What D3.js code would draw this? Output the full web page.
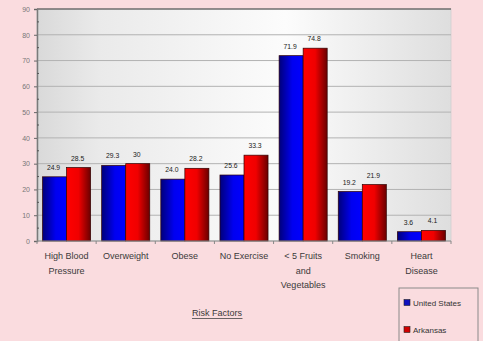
<!DOCTYPE html>
<html>
<head>
<meta charset="utf-8">
<script src="https://cdn.jsdelivr.net/npm/d3@7"></script>
<style>
  body { margin: 0; background: #fadcdf; }
  svg { display: block; font-family: "Liberation Sans", Arial, sans-serif; }
</style>
</head>
<body>
<script>
// data
const categories = [
    ['High Blood', 'Pressure'],
    ['Overweight'],
    ['Obese'],
    ['No Exercise'],
    ['< 5 Fruits', 'and', 'Vegetables'],
    ['Smoking'],
    ['Heart', 'Disease']
]
const seriesNames = ['United States', 'Arkansas']
const usValues = [24.9, 29.3, 24.0, 25.6, 71.9, 19.2, 3.6]
const arValues = [28.5, 30, 28.2, 33.3, 74.8, 21.9, 4.1]
const usLabels = ['24.9', '29.3', '24.0', '25.6', '71.9', '19.2', '3.6']
const arLabels = ['28.5', '30', '28.2', '33.3', '74.8', '21.9', '4.1']
const yTicks = [0, 10, 20, 30, 40, 50, 60, 70, 80, 90]
const axisTitle = 'Risk Factors'

window.onload = function(){
    chart.draw()
}

class chart {

    static width = 483
    static height = 341
    static plot = {left: 37, right: 451, top: 9, bottom: 241}

    static draw(){
        const svg = d3.select('body').append('svg')
            .attr('width', this.width)
            .attr('height', this.height)

        svg.append('rect')
            .attr('width', this.width).attr('height', this.height)
            .attr('fill', '#fadcdf')

        this.defs(svg)

        const p = this.plot
        const x0 = d3.scaleBand()
            .domain(d3.range(categories.length))
            .range([p.left, p.right])
        const x1 = d3.scaleBand()
            .domain(seriesNames)
            .range([0, x0.bandwidth()])
            .paddingOuter(0.23)
        const y = d3.scaleLinear()
            .domain([0, 90])
            .range([p.bottom, p.top])

        // plot background
        svg.append('rect')
            .attr('x', p.left).attr('y', p.top)
            .attr('width', p.right - p.left).attr('height', p.bottom - p.top)
            .attr('fill', 'url(#bgGrad)')
            .attr('stroke', '#cfcfcf')
            .attr('stroke-width', 0.8)

        // grid
        svg.append('g')
            .selectAll('line')
            .data(yTicks.filter(t => t > 0 && t < 90))
            .join('line')
            .attr('x1', p.left).attr('x2', p.right)
            .attr('y1', d => y(d)).attr('y2', d => y(d))
            .attr('stroke', '#b2b2b2')
            .attr('stroke-width', 1)

        svg.append('line')
            .attr('x1', p.left).attr('x2', p.right)
            .attr('y1', y(90)).attr('y2', y(90))
            .attr('stroke', '#3a3a3a').attr('stroke-width', 1.2)

        // y axis
        const yAxis = d3.axisLeft(y)
            .tickValues(yTicks)
            .tickSize(3)
            .tickPadding(4)
        const gy = svg.append('g')
            .attr('transform', d3Helper.translate(p.left, 0))
            .call(yAxis)
        gy.select('.domain').attr('stroke', '#7a7a7a').attr('stroke-width', 1.5)
        gy.selectAll('.tick line').attr('stroke', '#666')
        gy.selectAll('.tick text')
            .attr('fill', '#777').attr('font-size', 7)

        // minor ticks
        svg.append('g')
            .selectAll('line')
            .data(d3.range(5, 90, 10))
            .join('line')
            .attr('x1', p.left).attr('x2', p.left + 2)
            .attr('y1', d => y(d)).attr('y2', d => y(d))
            .attr('stroke', '#555')

        // bars
        const groups = svg.append('g')
            .selectAll('g')
            .data(categories.map((c, i) => ({i: i, vals: [
                {name: seriesNames[0], v: usValues[i], label: usLabels[i], grad: 'url(#blueGrad)'},
                {name: seriesNames[1], v: arValues[i], label: arLabels[i], grad: 'url(#redGrad)'}
            ]})))
            .join('g')
            .attr('transform', d => d3Helper.translate(x0(d.i), 0))

        groups.selectAll('rect')
            .data(d => d.vals)
            .join('rect')
            .attr('x', d => x1(d.name))
            .attr('y', d => y(d.v))
            .attr('width', x1.bandwidth())
            .attr('height', d => y(0) - y(d.v))
            .attr('fill', d => d.grad)
            .attr('stroke', '#300000')
            .attr('stroke-width', 0.7)

        groups.selectAll('text')
            .data(d => d.vals)
            .join('text')
            .attr('x', d => x1(d.name) + x1.bandwidth() / 2 - 1)
            .attr('y', d => y(d.v) - 7)
            .attr('text-anchor', 'middle')
            .attr('font-size', 6.8)
            .attr('fill', '#1a1a1a')
            .text(d => d.label)

        // x axis
        svg.append('line')
            .attr('x1', p.left).attr('x2', p.right)
            .attr('y1', p.bottom).attr('y2', p.bottom)
            .attr('stroke', '#888').attr('stroke-width', 1.2)
        svg.append('g')
            .selectAll('line')
            .data(d3.range(categories.length + 1))
            .join('line')
            .attr('x1', d => p.left + d * x0.step())
            .attr('x2', d => p.left + d * x0.step())
            .attr('y1', p.bottom).attr('y2', p.bottom + 3)
            .attr('stroke', '#888')

        const cat = svg.append('g')
            .selectAll('text')
            .data(categories)
            .join('text')
            .attr('text-anchor', 'middle')
            .attr('font-size', 9)
            .attr('fill', '#3a3a3a')
        cat.selectAll('tspan')
            .data((d, i) => d.map(line => ({line: line, i: i})))
            .join('tspan')
            .attr('x', d => x0(d.i) + x0.bandwidth() / 2)
            .attr('y', (d, k) => 259 + k * 14.5)
            .text(d => d.line)

        // axis title
        const title = svg.append('text')
            .attr('x', 217).attr('y', 316)
            .attr('text-anchor', 'middle')
            .attr('font-size', 9)
            .attr('fill', '#3a3a3a')
            .text(axisTitle)
        const tb = title.node().getBBox()
        svg.append('line')
            .attr('x1', tb.x).attr('x2', tb.x + tb.width)
            .attr('y1', 318.5).attr('y2', 318.5)
            .attr('stroke', '#444').attr('stroke-width', 0.8)

        this.legend(svg)
    }

    static legend(svg){
        const lg = svg.append('g').attr('transform', d3Helper.translate(399, 288))
        lg.append('rect')
            .attr('width', 79).attr('height', 60)
            .attr('fill', 'none')
            .attr('stroke', '#8a8a8a')
            .attr('stroke-width', 1)
        const colors = ['#1010c0', '#d00000']
        const items = lg.selectAll('g')
            .data(seriesNames)
            .join('g')
            .attr('transform', (d, i) => d3Helper.translate(5, 15 + i * 27))
        items.append('rect')
            .attr('x', 0).attr('y', -3.5)
            .attr('width', 6).attr('height', 6)
            .attr('fill', (d, i) => colors[i])
            .attr('stroke', '#222').attr('stroke-width', 0.6)
        items.append('text')
            .attr('x', 9).attr('y', 2.8)
            .attr('font-size', 8)
            .attr('fill', '#333')
            .text(d => d)
    }

    static defs(svg){
        const defs = svg.append('defs')
        const grad = (id, stops) => {
            const g = defs.append('linearGradient').attr('id', id)
                .attr('x1', '0%').attr('x2', '100%').attr('y1', '0%').attr('y2', '0%')
            stops.forEach(s => g.append('stop').attr('offset', s[0]).attr('stop-color', s[1]))
        }
        grad('bgGrad', [[0, '#d9d9d9'], [0.15, '#eaeaea'], [0.6, '#fcfcfc'], [1, '#dedede']])
        grad('blueGrad', [[0, '#00007a'], [0.55, '#0000f0'], [1, '#0000ff']])
        grad('redGrad', [[0, '#ff0000'], [0.5, '#f00000'], [1, '#6a0000']])
    }
}

class d3Helper {
    static translate(x, y){
        return 'translate(' + x + ',' + y + ')'
    }
}
</script>
</body>
</html>
